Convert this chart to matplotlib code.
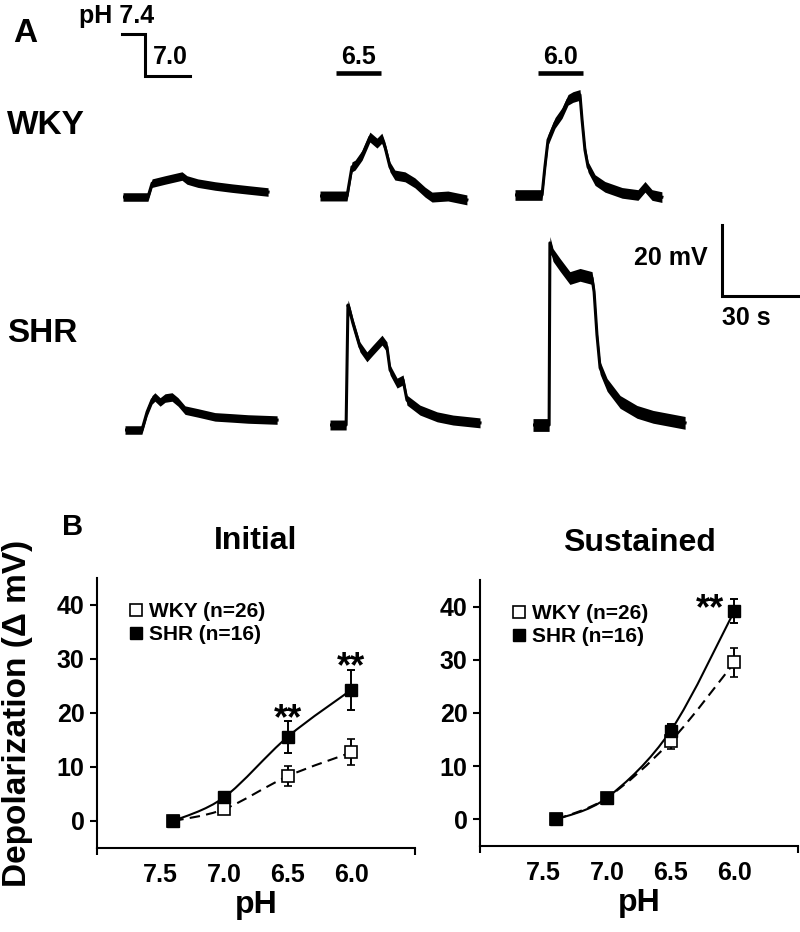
import numpy as np
import matplotlib
matplotlib.use("Agg")
import matplotlib.pyplot as plt
from matplotlib.path import Path
from matplotlib.patches import PathPatch
from matplotlib.lines import Line2D

plt.rcParams['font.family'] = ['Liberation Sans', 'DejaVu Sans']
plt.rcParams['font.weight'] = 'bold'
plt.rcParams['axes.titleweight'] = 'bold'
plt.rcParams['axes.labelweight'] = 'bold'

# ---- panel A: traces, time (s) and depolarization (mV) from trace start ----
wky70_t = [0, 9.6, 11.2, 16.2, 22.7, 24.6, 28.8, 35.4, 41.9, 48.1, 55.8]
wky70_v = [0, 0, 3.9, 4.8, 5.9, 4.8, 3.9, 3.1, 2.5, 2.0, 1.4]
wky65_t = [0, 10.4, 12.3, 13.5, 16.2, 19.2, 21.9, 23.8, 25.0, 26.9, 28.8, 32.7, 36.5, 40.4, 43.1, 49.2, 56.5]
wky65_v = [0, 0, 8.2, 8.7, 11.5, 16.6, 14.9, 16.3, 13.8, 8.2, 5.9, 5.4, 3.7, 1.1, -0.3, 0, -1.1]
wky60_t = [0, 10.4, 11.5, 12.7, 15.4, 18.1, 20.4, 22.3, 25.0, 25.8, 26.9, 28.1, 30.8, 34.6, 41.2, 47.3, 50.0, 52.7, 56.5]
wky60_v = [0, 0, 7.9, 15.5, 20.3, 23.1, 26.8, 27.6, 28.2, 21.1, 12.7, 7.9, 4.2, 2.3, 0.6, 0, 2.3, 0, -0.6]
shr70_t = [0, 6.5, 8.5, 10.4, 11.5, 13.5, 15.4, 18.1, 20.4, 23.1, 28.1, 34.6, 41.2, 47.3, 58.5]
shr70_v = [0, 0, 5.1, 8.5, 9.3, 7.9, 9.0, 9.3, 7.9, 5.6, 4.8, 3.7, 3.4, 3.1, 2.8]
shr65_t = [0, 6.2, 6.9, 7.3, 8.8, 11.5, 14.2, 16.5, 20.0, 21.9, 23.1, 25.8, 28.1, 29.6, 34.6, 41.2, 47.3, 57.7]
shr65_v = [0, 0, 33.8, 33.0, 28.7, 22.0, 19.2, 21.1, 23.9, 22.0, 15.5, 11.8, 12.7, 7.0, 4.2, 2.3, 1.4, 0.6]
shr60_t = [0, 6.2, 6.5, 7.7, 10.4, 14.2, 18.1, 22.7, 23.5, 24.6, 25.8, 28.5, 33.5, 40.0, 46.2, 58.5]
shr60_v = [0, 0, 51.3, 47.9, 45.1, 41.4, 42.3, 41.4, 37.5, 25.4, 16.1, 11.3, 6.5, 3.7, 2.3, 0.6]

# ---- panel B: mean +/- SEM ----
ph = [7.4, 7.0, 6.5, 6.0]
init_wky = [0, 2.2, 8.3, 12.7]
init_wky_err = [0.3, 0.5, 1.9, 2.4]
init_shr = [0, 4.4, 15.6, 24.3]
init_shr_err = [0.3, 0.5, 3.0, 3.7]
sust_wky = [0, 4.1, 14.7, 29.5]
sust_wky_err = [0.3, 0.5, 1.4, 2.7]
sust_shr = [0, 4.1, 16.7, 39.2]
sust_shr_err = [0.3, 0.5, 1.3, 2.3]

W, H = 800, 932
fig = plt.figure(figsize=(8, 9.32), dpi=100)

# overlay in pixel units for labels / bars
ov = fig.add_axes([0, 0, 1, 1])
ov.set_xlim(0, W)
ov.set_ylim(H, 0)
ov.axis('off')

PX_S, PX_MV = 2.6, 3.55


def trace(x0, y0, t, v, noise):
    ax = fig.add_axes([x0 / W, (H - y0 - 10 * PX_MV) / H, 62 * PX_S / W, 70 * PX_MV / H])
    ax.set_xlim(0, 62)
    ax.set_ylim(-10, 60)
    ax.axis('off')
    t = np.array(t)
    v = np.array(v)
    ax.fill_between(t, v - noise, v + noise, color='black', lw=0)
    ax.plot(t, v, color='black', lw=2.2)


trace(123, 197, wky70_t, wky70_v, 1.2)
trace(320, 196, wky65_t, wky65_v, 1.4)
trace(515, 195, wky60_t, wky60_v, 1.5)
trace(125, 430, shr70_t, shr70_v, 1.2)
trace(330, 425, shr65_t, shr65_v, 1.4)
trace(533, 425, shr60_t, shr60_v, 1.8)

ov.text(13, 42, 'A', fontsize=24, va='baseline')
ov.text(7, 126, 'WKY', fontsize=24, va='center')
ov.text(7, 334, 'SHR', fontsize=24, va='center')
ov.text(79, 23, 'pH 7.4', fontsize=18, va='baseline')
ov.plot([122, 145, 145, 190], [34, 34, 76, 76], color='black', lw=2.2, solid_joinstyle='miter')
ov.text(170, 64, '7.0', fontsize=18, ha='center', va='baseline')
ov.plot([336, 381], [73, 73], color='black', lw=3.3, solid_capstyle='butt')
ov.text(358, 64, '6.5', fontsize=18, ha='center', va='baseline')
ov.plot([538, 583], [73, 73], color='black', lw=3.3, solid_capstyle='butt')
ov.text(560, 64, '6.0', fontsize=18, ha='center', va='baseline')
# scale bar
ov.plot([722, 722, 800], [225, 296, 296], color='black', lw=2.2, solid_joinstyle='miter')
ov.text(708, 265, '20 mV', fontsize=18, ha='right', va='baseline')
ov.text(722, 325, '30 s', fontsize=18, ha='left', va='baseline')
ov.text(62, 535, 'B', fontsize=21, va='baseline')


def smooth(ax, x, y, ls):
    p = np.column_stack([x, y]).astype(float)
    pts = [p[0]]
    codes = [Path.MOVETO]
    n = len(p)
    for i in range(n - 1):
        pm = p[max(i - 1, 0)]
        p2 = p[min(i + 2, n - 1)]
        c1 = p[i] + (p[i + 1] - pm) / 6
        c2 = p[i + 1] - (p2 - p[i]) / 6
        pts += [c1, c2, p[i + 1]]
        codes += [Path.CURVE4] * 3
    ax.add_patch(PathPatch(Path(pts, codes), fill=False, lw=1.5, ls=ls,
                           edgecolor='black', zorder=2))


def panel(ax, wky, wky_err, shr, shr_err, title):
    smooth(ax, ph, wky, (0, (5, 3)))
    smooth(ax, ph, shr, '-')
    ax.errorbar(ph, wky, yerr=wky_err, fmt='s', ms=8.5, mfc='white', mec='black',
                mew=1.2, ecolor='black', elinewidth=1.4, capsize=3, capthick=1.4, zorder=3)
    ax.errorbar(ph, shr, yerr=shr_err, fmt='s', ms=8.5, mfc='black', mec='black',
                ecolor='black', elinewidth=1.4, capsize=3, capthick=1.4, zorder=4)
    ax.set_xlim(8.0, 5.5)
    ax.set_ylim(-5, 45)
    ax.set_xticks([7.5, 7.0, 6.5, 6.0])
    ax.set_xticklabels(['7.5', '7.0', '6.5', '6.0'])
    ax.set_xticks([8.0, 5.5], minor=True)
    ax.set_yticks([0, 10, 20, 30, 40])
    ax.tick_params(axis='x', which='major', length=0, pad=11, labelsize=18)
    ax.tick_params(axis='x', which='minor', length=5, width=1.5, direction='out')
    ax.tick_params(axis='y', length=5, width=1.5, pad=4, labelsize=18)
    for s in ['top', 'right']:
        ax.spines[s].set_visible(False)
    for s in ['left', 'bottom']:
        ax.spines[s].set_linewidth(1.5)
    ax.set_title(title, fontsize=23, pad=21)
    ax.set_xlabel('pH', fontsize=23, labelpad=2)
    handles = [Line2D([], [], marker='s', ls='none', ms=8.5, mfc='white', mec='black', mew=1.2),
               Line2D([], [], marker='s', ls='none', ms=8.5, mfc='black', mec='black')]
    ax.legend(handles, ['WKY (n=26)', 'SHR (n=16)'], loc='upper left',
              bbox_to_anchor=(0.1, 0.91), frameon=False, prop={'size': 15, 'weight': 'bold'},
              handlelength=0.7, handletextpad=0.25, labelspacing=0.2, borderpad=0,
              borderaxespad=0)


axL = fig.add_axes([97 / W, (H - 848) / H, 318 / W, 270 / H])
panel(axL, init_wky, init_wky_err, init_shr, init_shr_err, 'Initial')
axL.set_ylabel('Depolarization (\u0394 mV)', fontsize=24)
axL.yaxis.set_label_coords(-0.2, 0.5)
axL.text(6.5, init_shr[2] + init_shr_err[2] - 1.6, '**', fontsize=26, ha='center', va='baseline')
axL.text(6.0, init_shr[3] + init_shr_err[3] - 1.4, '**', fontsize=26, ha='center', va='baseline')

axR = fig.add_axes([480 / W, (H - 846) / H, 318 / W, 266 / H])
panel(axR, sust_wky, sust_wky_err, sust_shr, sust_shr_err, 'Sustained')
axR.text(6.19, sust_shr[3] + sust_shr_err[3] - 3.8, '**', fontsize=26, ha='center', va='baseline')

fig.savefig('out.png', dpi=100)
